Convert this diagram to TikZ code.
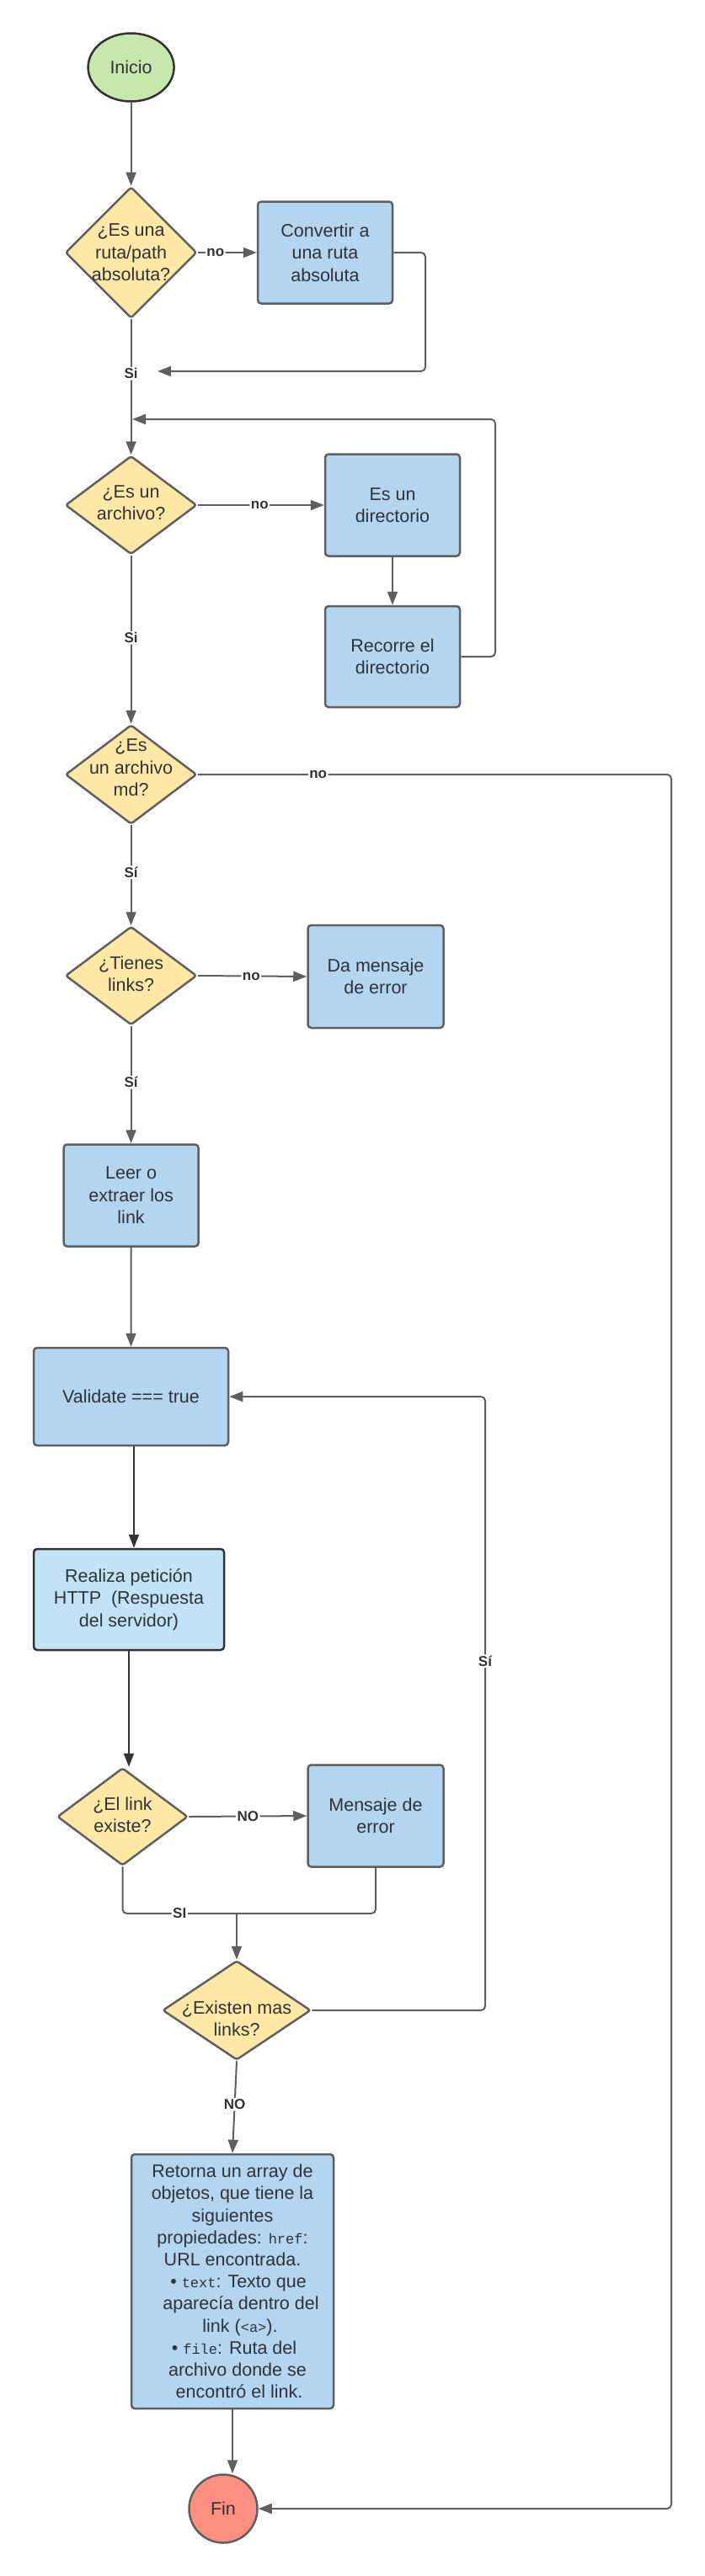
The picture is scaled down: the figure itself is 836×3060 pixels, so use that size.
\documentclass[tikz,border=0pt]{standalone}
\usepackage{fontspec}
\setmainfont{Liberation Sans}
\setmonofont{Liberation Mono}
\usetikzlibrary{shapes.geometric,arrows.meta,calc}
\definecolor{lc}{HTML}{5F5F5F}
\definecolor{dk}{HTML}{333333}
\definecolor{bluef}{HTML}{B3D5F0}
\definecolor{bluel}{HTML}{C2E3F6}
\definecolor{yelf}{HTML}{FFE8A6}
\definecolor{grnf}{HTML}{C7E8AC}
\definecolor{redf}{HTML}{FF8F80}
\definecolor{txt}{HTML}{2F3338}
\newcommand\rl[2]{\makebox[214pt]{\hspace*{#1pt}#2}}
\newcommand\monoc[1]{{\ttfamily\fontsize{17}{26.2}\selectfont #1}}
\begin{document}
\begin{tikzpicture}[x=1pt,y=-1pt,
  base/.style={font=\fontsize{21.5}{26.5}\selectfont, text=txt, align=center, line width=2.5pt, inner sep=0pt},
  proc/.style={base, rectangle, rounded corners=4pt, draw=lc, fill=bluef},
  dec/.style={base, diamond, draw=lc, fill=yelf, rounded corners=3pt},
  dtext/.style={font=\fontsize{21.5}{26.5}\selectfont, text=txt, align=center, inner sep=0pt},
  term/.style={base, ellipse},
  conn/.style={draw=lc, line width=2pt, rounded corners=5pt},
  arr/.style={conn, -{Triangle[length=16pt,width=12pt]}},
  darr/.style={draw=dk, line width=2pt, -{Triangle[length=16pt,width=12pt]}},
  lbl/.style={fill=white, font=\bfseries\fontsize{17}{18}\selectfont, text=dk, inner sep=1.5pt}
]
\useasboundingbox[fill=white] (0,0) rectangle (836,3060);

% nodes
\node[term, fill=grnf, draw=dk, minimum width=102pt, minimum height=81pt] (ini) at (155.6,80) {Inicio};

\node[dec, minimum width=156pt, minimum height=156pt] (d1) at (155.6,300) {};
\node[dtext] (d1t) at (d1) {¿Es una\\ruta/path\\absoluta?};
\node[proc, minimum width=160pt, minimum height=121pt] (b1) at (386,300) {Convertir a\\una ruta\\absoluta};

\node[dec, minimum width=156pt, minimum height=117pt] (d2) at (155.6,600) {};
\node[dtext] (d2t) at (155.6,597) {¿Es un\\archivo?};
\node[proc, minimum width=160pt, minimum height=121pt] (b2) at (466,600) {Es un\\directorio};
\node[proc, minimum width=160pt, minimum height=120pt] (b3) at (466,780) {Recorre el\\directorio};

\node[dec, minimum width=156pt, minimum height=118pt] (d3) at (155.6,920) {};
\node[dtext] (d3t) at (155.6,912) {¿Es\\un archivo\\md?};

\node[dec, minimum width=156pt, minimum height=117pt] (d4) at (155.6,1159) {};
\node[dtext] (d4t) at (155.6,1157) {¿Tienes\\links?};
\node[proc, minimum width=161pt, minimum height=122pt] (b4) at (446,1160) {Da mensaje\\de error};

\node[proc, minimum width=160pt, minimum height=121pt] (b5) at (155.6,1420) {Leer o\\extraer los\\link};

\node[proc, minimum width=231pt, minimum height=116pt] (b6) at (155.5,1659) {Validate === true};
\node[proc, fill=bluel, draw=dk, minimum width=226pt, minimum height=120pt] (b7) at (153,1900) {Realiza petición\\HTTP~~(Respuesta\\del servidor)};

\node[dec, minimum width=155pt, minimum height=116pt] (d5) at (145.5,2158) {};
\node[dtext] (d5t) at (145.5,2156) {¿El link\\existe?};
\node[proc, minimum width=161pt, minimum height=121pt] (b8) at (446,2157) {Mensaje de\\error};

\node[dec, minimum width=176pt, minimum height=118pt] (d6) at (281,2388) {};
\node[dtext] (d6t) at (281,2398) {¿Existen mas\\links?};

\node[proc, minimum width=240pt, minimum height=302pt, font=\fontsize{21.5}{26.2}\selectfont] (b9) at (276,2710) {%
\rl{0}{Retorna un array de}\\
\rl{0}{objetos, que tiene la}\\
\rl{0}{siguientes}\\
\rl{0}{propiedades: \monoc{href}:}\\
\rl{0}{URL encontrada.}\\
\rl{14}{• \monoc{text}: Texto que}\\
\rl{20}{aparecía dentro del}\\
\rl{18}{link (\monoc{<a>}).}\\
\rl{4}{• \monoc{file}: Ruta del}\\
\rl{12}{archivo donde se}\\
\rl{16}{encontró el link.}};

\node[term, fill=redf, draw=lc, minimum width=81pt, minimum height=81pt] (fin) at (265,2980) {Fin};

\coordinate (j1) at (187,441);
\coordinate (j2) at (157,498);
\coordinate (jn) at (281,2273);

% connectors
\draw[arr] (ini) -- (d1);
\draw[arr] (d1.east) -- node[lbl,pos=0.3] (no1) {no} (b1.west);
\draw[arr] (d1.south) -- node[lbl,pos=0.4] (si1) {Si} (d2.north);
\draw[arr] (b1.east) -- (505,300) |- (j1);
\draw[arr] (b3.east) -- (588,780) |- (j2);
\draw[arr] (d2.east) -- node[lbl,pos=0.49] (no2) {no} (b2.west);
\draw[arr] (b2) -- (b3);
\draw[arr] (d2.south) -- node[lbl,pos=0.49] (si2) {Si} (d3.north);
\draw[arr] (d3.east) -- node[lbl,pos=0.254] (no3) {no} (797,920) -- (797,2980) -- (fin.east);
\draw[arr] (d3.south) -- node[lbl,pos=0.47] (si3) {Sí} (d4.north);
\draw[arr] (d4.east) -- node[lbl,pos=0.49] (no4) {no} (b4.west);
\draw[arr] (d4.south) -- node[lbl,pos=0.48] (si4) {Sí} (b5.north);
\draw[arr] (b5) -- (b6);
\draw[darr] ([xshift=3.5pt]b6.south) -- ([xshift=3.5pt]b6.south |- b7.north);
\draw[darr] (b7.south) -- (b7.south |- d5.north);
\draw[arr] (d5.east) -- node[lbl,pos=0.5] (no5) {NO} (b8.west);
\draw[conn] (d5.south) |- node[lbl,pos=0.75] (si5) {SI} (jn);
\draw[conn] (b8.south) |- (jn);
\draw[arr] (jn) -- (d6.north);
\draw[arr] (d6.east) -- (576,2388) -- node[lbl,pos=0.569] (si6) {Sí} (576,1659) -- (b6.east);
\draw[arr] (d6.south) -- node[lbl,pos=0.47] (no6) {NO} (b9.north);
\draw[arr] (b9.south) -- (b9.south |- fin.north);
\end{tikzpicture}
\end{document}
